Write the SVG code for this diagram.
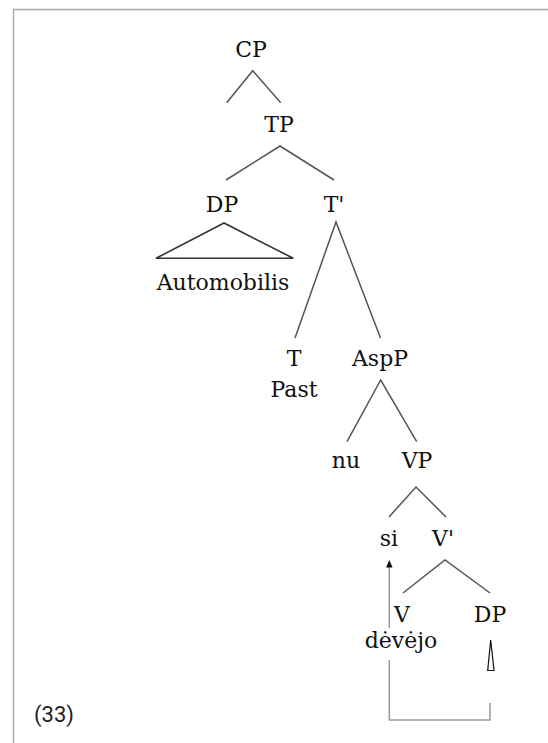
<svg xmlns="http://www.w3.org/2000/svg" width="548" height="743" viewBox="0 0 548 743">
  <style>
    .lbl { font-family: "DejaVu Serif", "Liberation Serif", serif; font-size: 22px; fill: #111; text-anchor: middle; }
    .num { font-family: Roboto, "Noto Sans", sans-serif; font-size: 22px; fill: #222; }
    .branch { fill: none; stroke: #555; stroke-width: 1.5; stroke-linejoin: miter; }
    .move { fill: none; stroke: #999; stroke-width: 1.5; }
  </style>
  <rect x="0" y="0" width="548" height="743" fill="#fff"/>
  <!-- frame -->
  <path d="M13.5,743 V9.5 H548" fill="none" stroke="#a3ae9f" stroke-width="1.4"/>

  <g id="connectors">
    <path class="branch" d="M226.7,102.7 L252.7,70.7 L280.7,102.7"/>
    <path class="branch" d="M226,180 L280,146 L334,180"/>
    <polygon points="224,223 156,258.3 293.3,258.3" fill="none" stroke="#333" stroke-width="1.6"/>
    <path class="branch" d="M295,338 L336,222 L380.5,338"/>
    <path class="branch" d="M347,441.7 L380.7,380 L416.7,441.7"/>
    <path class="branch" d="M389,517 L416,487 L446,517"/>
    <path class="branch" d="M403,593 L445,560 L490,593"/>
    <!-- movement arrow -->
    <path class="move" d="M389.3,566 V628 M389.3,660 V720 H490 V703"/>
    <polygon points="389.3,560 386,567.5 392.6,567.5" fill="#111"/>
    <!-- trace -->
    <polygon points="490.7,640 487.7,670.5 494,670.5" fill="#fff" stroke="#111" stroke-width="1.2"/>
  </g>

  <g id="CP"><text class="lbl" x="251" y="57">CP</text></g>
  <g id="TP"><text class="lbl" x="279" y="132">TP</text></g>
  <g id="DP-subject"><text class="lbl" x="222" y="212">DP</text></g>
  <g id="T-bar"><text class="lbl" x="334" y="212">T'</text></g>
  <g id="Automobilis"><text class="lbl" x="223" y="290">Automobilis</text></g>
  <g id="T"><text class="lbl" x="294" y="366">T</text><text class="lbl" x="294" y="397">Past</text></g>
  <g id="AspP"><text class="lbl" x="380" y="366">AspP</text></g>
  <g id="nu"><text class="lbl" x="346" y="468">nu</text></g>
  <g id="VP"><text class="lbl" x="417" y="468">VP</text></g>
  <g id="si"><text class="lbl" x="389" y="546">si</text></g>
  <g id="V-bar"><text class="lbl" x="443" y="546">V'</text></g>
  <g id="V"><text class="lbl" x="402" y="622">V</text><text class="lbl" x="401" y="648">dėvėjo</text></g>
  <g id="DP-object"><text class="lbl" x="490" y="622">DP</text></g>
  <g id="label"><text class="num" x="34" y="722">(33)</text></g>
</svg>
